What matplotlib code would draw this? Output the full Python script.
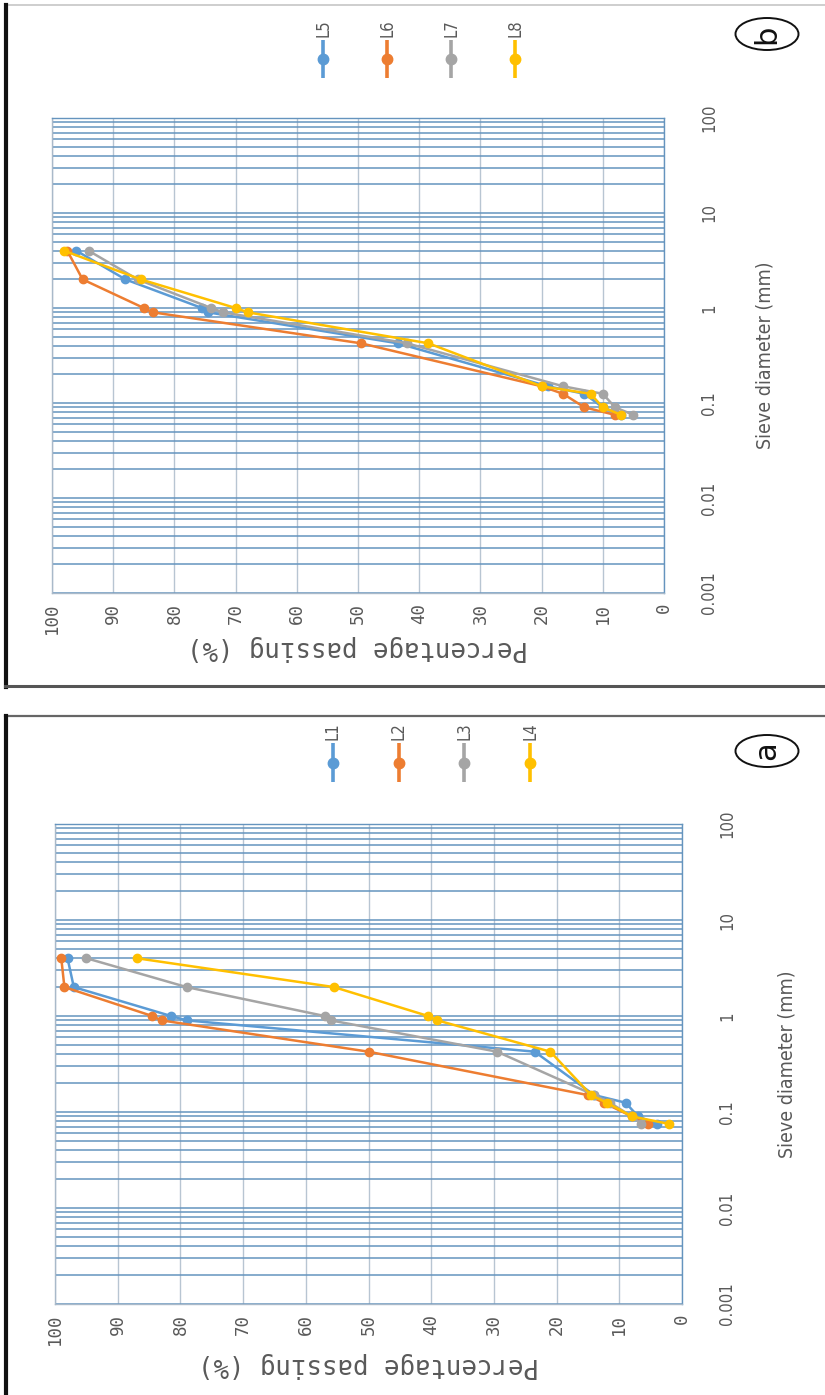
import matplotlib
matplotlib.use('Agg')
import matplotlib.pyplot as plt
from matplotlib.lines import Line2D
from matplotlib.patches import Ellipse
from matplotlib.ticker import LogLocator, NullFormatter
from matplotlib import font_manager
from matplotlib.font_manager import FontProperties
import numpy as np

W, H = 825, 1395

# ---------------- data ----------------
sieve_mm = [4.0, 2.0, 1.0, 0.9, 0.425, 0.15, 0.125, 0.09, 0.075]

names_a = ['L1', 'L2', 'L3', 'L4']
L1 = [98, 97, 81.5, 79, 23.5, 14, 9, 7, 4]
L2 = [99, 98.5, 84.5, 83, 50, 15, 12.5, 8, 5.5]
L3 = [95, 79, 57, 56, 29.5, 14, 11.5, 8, 6.5]
L4 = [87, 55.5, 40.5, 39, 21, 14.5, 12, 8, 2]

names_b = ['L5', 'L6', 'L7', 'L8']
L5 = [96, 88, 75.5, 74.5, 43.5, 19, 13, 10, 7]
L6 = [97.5, 95, 85, 83.5, 49.5, 20, 16.5, 13, 8]
L7 = [94, 86, 74, 72, 42, 16.5, 10, 8, 5]
L8 = [98, 85.5, 70, 68, 38.5, 20, 12, 10, 7]

percent_ticks = list(range(0, 101, 10))
sieve_ticks = [0.001, 0.01, 0.1, 1, 10, 100]
sieve_tick_labels = ['0.001', '0.01', '0.1', '1', '10', '100']
series_colors = ['#5B9BD5', '#ED7D31', '#A5A5A5', '#FFC000']

xlabel_text = 'Percentage passing (%)'
ylabel_text = 'Sieve diameter (mm)'

# ---------------- fonts ----------------
ttf = font_manager.fontManager.ttflist
available = {f.name for f in ttf}
narrow_path = None
for f in ttf:
    if f.name in ('Liberation Sans Narrow', 'Arial Narrow') and f.weight in (400, 'normal', 'regular'):
        narrow_path = f.fname
        break
if narrow_path is None:
    for f in ttf:
        if f.name == 'DejaVu Sans' and str(f.stretch) in ('condensed', 'semi-condensed') \
                and f.style == 'normal' and f.weight in (400, 'normal', 'book', 'regular'):
            narrow_path = f.fname
            break


def narrow_fp(size):
    if narrow_path is not None:
        return FontProperties(fname=narrow_path, size=size)
    return FontProperties(family='DejaVu Sans', size=size * 0.9)


MONO = 'DejaVu Sans Mono' if 'DejaVu Sans Mono' in available else 'Liberation Mono'
TXT = '#595959'

fig = plt.figure(figsize=(W / 100, H / 100), dpi=100)
fig.patch.set_facecolor('white')


def px_rect(l, t, r, b):
    return [l / W, 1 - b / H, (r - l) / W, (b - t) / H]


def fx(x):
    return x / W


def fy(y):
    return 1 - y / H


def make_panel(l, t, r, b, series, names, xlab_dy, ylab_x):
    ax = fig.add_axes(px_rect(l, t, r, b))
    for vals, name, c in zip(series, names, series_colors):
        ax.plot(vals, sieve_mm, color=c, lw=1.8, marker='o', ms=6,
                mec=c, mfc=c, label=name, zorder=3, clip_on=False)
    ax.set_yscale('log')
    ax.set_ylim(0.001, 100)
    ax.set_xlim(100, 0)
    ax.yaxis.set_minor_locator(LogLocator(base=10, subs=np.arange(2, 10), numticks=30))
    ax.yaxis.set_minor_formatter(NullFormatter())
    ax.set_axisbelow(True)
    ax.grid(True, which='both', axis='y', color='#6594be', lw=1.1)
    ax.grid(True, which='major', axis='x', color='#b8c5d2', lw=1.0)
    ax.tick_params(which='both', length=0)
    for s in ax.spines.values():
        s.set_color('#a9b9c9')
        s.set_linewidth(1.0)
    ax.spines['right'].set_color('#6594be')
    ax.spines['top'].set_color('#6594be')

    ax.set_xticks(percent_ticks)
    ax.set_xticklabels([str(v) for v in percent_ticks], rotation=90,
                       fontfamily=MONO, fontsize=12.5, color=TXT)
    ax.tick_params(axis='x', pad=7)

    ax.yaxis.tick_right()
    ax.set_yticks(sieve_ticks)
    ax.set_yticklabels(sieve_tick_labels, rotation=90, va='center', ha='left',
                       fontproperties=narrow_fp(12), color=TXT)
    ax.tick_params(axis='y', which='major', pad=26)

    ax.set_xlabel(xlabel_text, rotation=180, fontfamily=MONO, fontsize=18.5, color=TXT)
    ax.xaxis.set_label_coords(0.5, -xlab_dy / (b - t))
    ax.xaxis.label.set_va('center')
    ax.xaxis.label.set_ha('center')

    ax.yaxis.set_label_position('right')
    ax.set_ylabel(ylabel_text, rotation=90, fontproperties=narrow_fp(14), color=TXT)
    ax.yaxis.set_label_coords((ylab_x - l) / (r - l), 0.5)
    ax.yaxis.label.set_va('center')
    ax.yaxis.label.set_ha('center')
    return ax


def make_legend(l, t, r, b, names):
    lax = fig.add_axes(px_rect(l, t, r, b))
    lax.axis('off')
    lax.set_xlim(-0.5, len(names) - 0.5)
    lax.set_ylim(0, 1)
    for i, (name, c) in enumerate(zip(names, series_colors)):
        lax.plot([i, i], [0, 1], color=c, lw=2.6, solid_capstyle='butt')
        lax.plot([i], [0.5], 'o', color=c, ms=7.5)
        lax.text(i, 1.08, name, rotation=90, ha='center', va='bottom',
                 fontproperties=narrow_fp(12), color=TXT)


def circled(cx, cy, letter):
    fig.patches.append(Ellipse((fx(cx), fy(cy)), width=63 / W, height=32 / H,
                               transform=fig.transFigure, fill=False,
                               ec='#111111', lw=1.4))
    fig.text(fx(cx), fy(cy), letter, rotation=90, ha='center', va='center',
             fontsize=22, color='#111111')


# ---------------- panel (b) at top ----------------
make_panel(52, 118, 664, 593, [L5, L6, L7, L8], names_b, 55, 765)
make_legend(291, 40, 547, 78, names_b)
circled(767, 34, 'b')

# ---------------- panel (a) at bottom ----------------
make_panel(55, 824, 682, 1304, [L1, L2, L3, L4], names_a, 61, 787)
make_legend(300, 743, 563, 782, names_a)
circled(767, 751, 'a')

# ---------------- frames ----------------
fig.add_artist(Line2D([fx(5), 1], [fy(5), fy(5)], color='#c6c6c6', lw=1.2))
fig.add_artist(Line2D([fx(6), fx(6)], [fy(5), fy(687)], color='#111111', lw=3.0))
fig.add_artist(Line2D([fx(5), 1], [fy(686), fy(686)], color='#555555', lw=2.2))
fig.add_artist(Line2D([fx(5), 1], [fy(716), fy(716)], color='#666666', lw=1.6))
fig.add_artist(Line2D([fx(6), fx(6)], [fy(716), 0], color='#111111', lw=3.0))

fig.savefig('out.png', dpi=100, facecolor='white')
